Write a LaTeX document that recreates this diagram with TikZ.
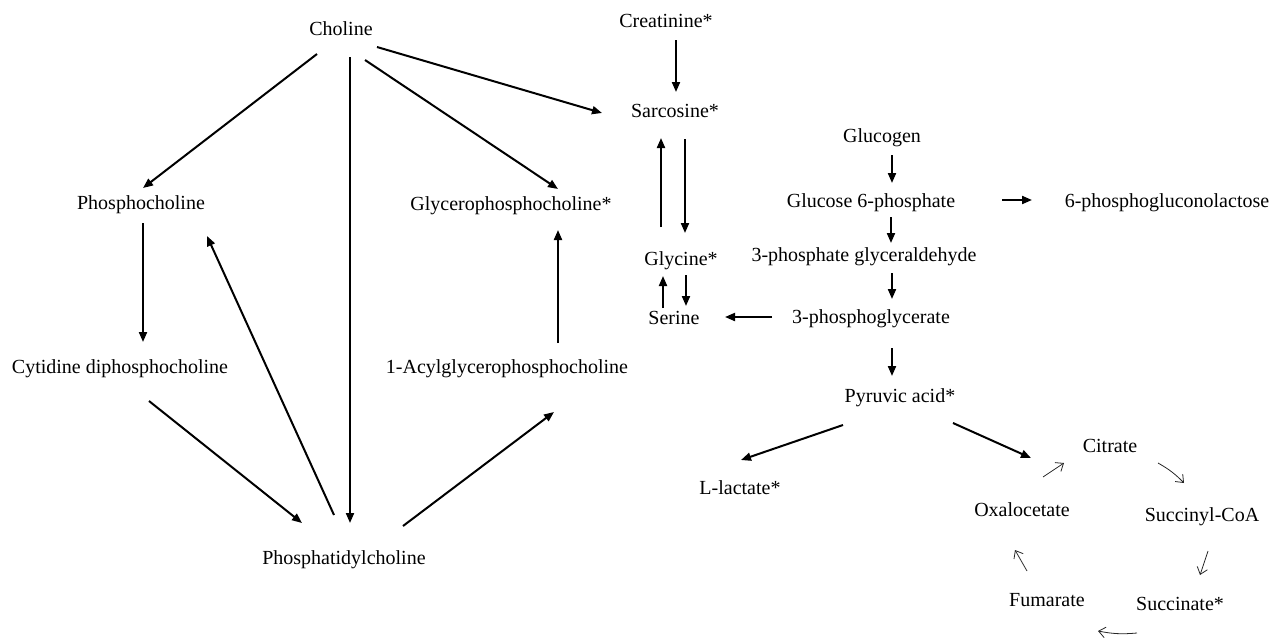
\documentclass[tikz,border=0pt]{standalone}
\usepackage{fontspec}
\setmainfont{Liberation Serif}
\usetikzlibrary{arrows.meta,calc}
\tikzset{
  lbl/.style={inner sep=0pt, text height=0.68em, text depth=0pt, anchor=center, font=\fontsize{15pt}{18pt}\selectfont},
  thick arrow/.style={line width=1.5pt, draw=black, -{Triangle[length=7.5pt,width=6pt]}},
  thin arrow/.style={line width=0.6pt, draw=black!85, -{Straight Barb[length=5pt,width=8pt]}}
}
\begin{document}
\begin{tikzpicture}[x=0.75pt,y=-0.75pt]
\useasboundingbox (0,0) rectangle (1272,637);
% nodes
\node[lbl] (choline) at (341,31) {Choline};
\node[lbl] (creat) at (666,23) {Creatinine*};
\node[lbl] (sarc) at (675,113) {Sarcosine*};
\node[lbl] (pchol) at (141,205) {Phosphocholine};
\node[lbl] (gpc) at (511,206) {Glycerophosphocholine*};
\node[lbl] (glucogen) at (882,138) {Glucogen};
\node[lbl] (g6p) at (871,203) {Glucose 6-phosphate};
\node[lbl] (pglac) at (1167,203) {6-phosphogluconolactose};
\node[lbl] (glycine) at (681,261) {Glycine*};
\node[lbl] (g3p) at (864,257) {3-phosphate glyceraldehyde};
\node[lbl] (serine) at (674,320) {Serine};
\node[lbl] (pga) at (871,319) {3-phosphoglycerate};
\node[lbl] (cdp) at (120,369) {Cytidine diphosphocholine};
\node[lbl] (acyl) at (507,369) {1-Acylglycerophosphocholine};
\node[lbl] (pyr) at (900,398) {Pyruvic acid*};
\node[lbl] (citrate) at (1110,448) {Citrate};
\node[lbl] (lact) at (740,490) {L-lactate*};
\node[lbl] (oxal) at (1022,512) {Oxalocetate};
\node[lbl] (sucoa) at (1202,517) {Succinyl-CoA};
\node[lbl] (pc) at (344,560) {Phosphatidylcholine};
\node[lbl] (fum) at (1047,602) {Fumarate};
\node[lbl] (succ) at (1180,606) {Succinate*};
% thick arrows
\draw[thick arrow] ($(choline)+(-24,23)$) -- ($(pchol)+(2,-17)$);
\draw[thick arrow] ($(choline)+(9,26)$) -- ($(pc)+(6,-37)$);
\draw[thick arrow] ($(choline)+(24,29)$) -- ($(gpc)+(47,-17)$);
\draw[thick arrow] ($(choline)+(36,16)$) -- ($(sarc)+(-73,0)$);
\draw[thick arrow] ($(creat)+(10,17)$) -- ($(sarc)+(1,-21)$);
\draw[thick arrow] ($(glycine)+(-20,-34)$) -- ($(sarc)+(-14,25)$);
\draw[thick arrow] ($(sarc)+(10,26)$) -- ($(glycine)+(4,-28)$);
\draw[thick arrow] ($(serine)+(-11,-12)$) -- ($(glycine)+(-18,15)$);
\draw[thick arrow] ($(glycine)+(5,14)$) -- ($(serine)+(12,-14)$);
\draw[thick arrow] ($(pchol)+(2,18)$) -- ($(cdp)+(23,-27)$);
\draw[thick arrow] ($(cdp)+(29,32)$) -- ($(pc)+(-42,-37)$);
\draw[thick arrow] ($(pc)+(-10,-45)$) -- ($(pchol)+(66,31)$);
\draw[thick arrow] ($(pc)+(59,-34)$) -- ($(acyl)+(47,43)$);
\draw[thick arrow] ($(acyl)+(51,-26)$) -- ($(gpc)+(47,24)$);
\draw[thick arrow] ($(glucogen)+(10,17)$) -- ($(g6p)+(21,-20)$);
\draw[thick arrow] ($(g6p)+(131,-3)$) -- ($(pglac)+(-135,-3)$);
\draw[thick arrow] ($(g6p)+(20,14)$) -- ($(g3p)+(27,-14)$);
\draw[thick arrow] ($(g3p)+(28,16)$) -- ($(pga)+(21,-20)$);
\draw[thick arrow] ($(pga)+(-99,-2)$) -- ($(serine)+(51,-3)$);
\draw[thick arrow] ($(pga)+(21,29)$) -- ($(pyr)+(-8,-22)$);
\draw[thick arrow] ($(pyr)+(-57,27)$) -- ($(lact)+(1,-30)$);
\draw[thick arrow] ($(pyr)+(53,25)$) -- ($(citrate)+(-79,10)$);
% TCA cycle thin arrows
\draw[thin arrow] ($(oxal)+(21,-35)$) -- ($(citrate)+(-46,15)$);
\draw[thin arrow] ($(citrate)+(48,15)$) to[bend left=8] ($(sucoa)+(-18,-34)$);
\draw[thin arrow] ($(sucoa)+(6,34)$) -- ($(succ)+(20,-31)$);
\draw[thin arrow] ($(succ)+(-43,27)$) to[bend left=8] ($(fum)+(51,29)$);
\draw[thin arrow] ($(fum)+(-20,-31)$) -- ($(oxal)+(-7,38)$);
\end{tikzpicture}
\end{document}
